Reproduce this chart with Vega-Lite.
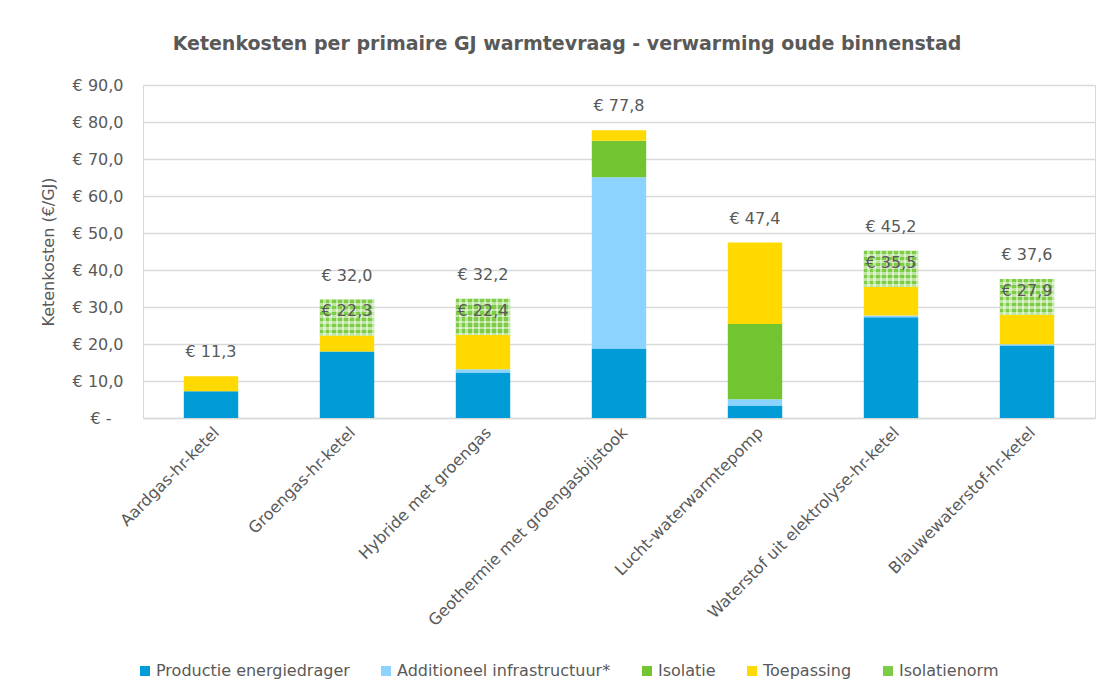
{
  "$schema": "https://vega.github.io/schema/vega-lite/v6.json",
  "width": 952,
  "height": 333,
  "autosize": {"type": "none"},
  "padding": {"left": 143, "top": 85, "right": 13, "bottom": 277},
  "background": "white",
  "title": {
    "text": "Ketenkosten per primaire GJ warmtevraag - verwarming oude binnenstad",
    "font": "DejaVu Sans",
    "fontSize": 19,
    "fontWeight": "bold",
    "color": "#595959",
    "anchor": "middle",
    "dx": -52,
    "offset": 23
  },
  "config": {
    "font": "DejaVu Sans",
    "view": {"stroke": "#d9d9d9"}
  },
  "datasets": {
    "bars": [
      {"cat": "Aardgas-hr-ketel", "series": "Productie energiedrager", "value": 7.2},
      {"cat": "Aardgas-hr-ketel", "series": "Toepassing", "value": 4.1},
      {"cat": "Groengas-hr-ketel", "series": "Productie energiedrager", "value": 18.0},
      {"cat": "Groengas-hr-ketel", "series": "Toepassing", "value": 4.3},
      {"cat": "Groengas-hr-ketel", "series": "Isolatienorm", "value": 9.7},
      {"cat": "Hybride met groengas", "series": "Productie energiedrager", "value": 12.3},
      {"cat": "Hybride met groengas", "series": "Additioneel infrastructuur*", "value": 0.9},
      {"cat": "Hybride met groengas", "series": "Toepassing", "value": 9.2},
      {"cat": "Hybride met groengas", "series": "Isolatienorm", "value": 9.8},
      {"cat": "Geothermie met groengasbijstook", "series": "Productie energiedrager", "value": 18.8},
      {"cat": "Geothermie met groengasbijstook", "series": "Additioneel infrastructuur*", "value": 46.3},
      {"cat": "Geothermie met groengasbijstook", "series": "Isolatie", "value": 9.8},
      {"cat": "Geothermie met groengasbijstook", "series": "Toepassing", "value": 2.9},
      {"cat": "Lucht-waterwarmtepomp", "series": "Productie energiedrager", "value": 3.4},
      {"cat": "Lucht-waterwarmtepomp", "series": "Additioneel infrastructuur*", "value": 1.7},
      {"cat": "Lucht-waterwarmtepomp", "series": "Isolatie", "value": 20.3},
      {"cat": "Lucht-waterwarmtepomp", "series": "Toepassing", "value": 22.0},
      {"cat": "Waterstof uit elektrolyse-hr-ketel", "series": "Productie energiedrager", "value": 27.2},
      {"cat": "Waterstof uit elektrolyse-hr-ketel", "series": "Additioneel infrastructuur*", "value": 0.5},
      {"cat": "Waterstof uit elektrolyse-hr-ketel", "series": "Toepassing", "value": 7.8},
      {"cat": "Waterstof uit elektrolyse-hr-ketel", "series": "Isolatienorm", "value": 9.7},
      {"cat": "Blauwewaterstof-hr-ketel", "series": "Productie energiedrager", "value": 19.6},
      {"cat": "Blauwewaterstof-hr-ketel", "series": "Additioneel infrastructuur*", "value": 0.3},
      {"cat": "Blauwewaterstof-hr-ketel", "series": "Toepassing", "value": 8.0},
      {"cat": "Blauwewaterstof-hr-ketel", "series": "Isolatienorm", "value": 9.7}
    ],
    "labels": [
      {"cat": "Aardgas-hr-ketel", "value": 11.3, "w": "bold"},
      {"cat": "Groengas-hr-ketel", "value": 32.0, "w": "normal"},
      {"cat": "Groengas-hr-ketel", "value": 22.3, "w": "normal"},
      {"cat": "Hybride met groengas", "value": 32.2, "w": "normal"},
      {"cat": "Hybride met groengas", "value": 22.4, "w": "normal"},
      {"cat": "Geothermie met groengasbijstook", "value": 77.8, "w": "normal"},
      {"cat": "Lucht-waterwarmtepomp", "value": 47.4, "w": "normal"},
      {"cat": "Waterstof uit elektrolyse-hr-ketel", "value": 45.2, "w": "normal"},
      {"cat": "Waterstof uit elektrolyse-hr-ketel", "value": 35.5, "w": "normal"},
      {"cat": "Blauwewaterstof-hr-ketel", "value": 37.6, "w": "normal"},
      {"cat": "Blauwewaterstof-hr-ketel", "value": 27.9, "w": "normal"}
    ]
  },
  "layer": [
    {
      "data": {"name": "bars"},
      "transform": [
        {"calculate": "indexof(['Productie energiedrager','Additioneel infrastructuur*','Isolatie','Toepassing','Isolatienorm'], datum.series)", "as": "ord"}
      ],
      "mark": {"type": "bar"},
      "encoding": {
        "x": {
          "field": "cat",
          "type": "nominal",
          "sort": ["Aardgas-hr-ketel", "Groengas-hr-ketel", "Hybride met groengas", "Geothermie met groengasbijstook", "Lucht-waterwarmtepomp", "Waterstof uit elektrolyse-hr-ketel", "Blauwewaterstof-hr-ketel"],
          "scale": {"paddingInner": 0.6, "paddingOuter": 0.3},
          "axis": {
            "title": null,
            "labelAngle": -45,
            "labelAlign": "right",
            "labelBaseline": "top",
            "labelFontSize": 16,
            "labelColor": "#595959",
            "labelPadding": 6,
            "labelLimit": 400,
            "ticks": false,
            "domainColor": "#d9d9d9",
            "domainWidth": 1.5
          }
        },
        "y": {
          "field": "value",
          "type": "quantitative",
          "stack": "zero",
          "scale": {"domain": [0, 90], "nice": false},
          "axis": {
            "title": "Ketenkosten (€/GJ)",
            "titleFontSize": 16,
            "titleFontWeight": "normal",
            "titleColor": "#595959",
            "titlePadding": 16,
            "values": [0, 10, 20, 30, 40, 50, 60, 70, 80, 90],
            "tickCount": 20,
            "labelOverlap": false,
            "labelExpr": "datum.value == 0 ? '€ -' : '€ ' + replace(format(datum.value, '.1f'), '.', ',')",
            "labelFontSize": 16,
            "labelColor": "#595959",
            "labelPadding": {"condition": {"test": "datum.value == 0", "value": 32}, "value": 20},
            "ticks": false,
            "domain": false,
            "grid": true,
            "gridColor": "#d9d9d9",
            "gridWidth": 1.5
          }
        },
        "color": {
          "field": "series",
          "type": "nominal",
          "scale": {
            "domain": ["Productie energiedrager", "Additioneel infrastructuur*", "Isolatie", "Toepassing", "Isolatienorm"],
            "range": ["#009CD8", "#8DD3FF", "#72C530", "#FFD900", "#7ECB46"]
          },
          "legend": {
            "title": null,
            "orient": "none",
            "legendX": -6,
            "legendY": 578,
            "direction": "horizontal",
            "columns": 5,
            "symbolType": "square",
            "symbolSize": 100,
            "symbolStrokeWidth": 0,
            "labelFontSize": 16,
            "labelColor": "#595959",
            "labelOffset": 3,
            "labelLimit": 400,
            "columnPadding": 28
          }
        },
        "order": {"field": "ord", "type": "quantitative"}
      }
    },
    {
      "data": {"name": "bars"},
      "transform": [
        {"calculate": "indexof(['Productie energiedrager','Additioneel infrastructuur*','Isolatie','Toepassing','Isolatienorm'], datum.series)", "as": "ord"}
      ],
      "mark": {"type": "bar"},
      "encoding": {
        "x": {"field": "cat", "type": "nominal", "sort": ["Aardgas-hr-ketel", "Groengas-hr-ketel", "Hybride met groengas", "Geothermie met groengasbijstook", "Lucht-waterwarmtepomp", "Waterstof uit elektrolyse-hr-ketel", "Blauwewaterstof-hr-ketel"]},
        "y": {"field": "value", "type": "quantitative", "stack": "zero"},
        "order": {"field": "ord", "type": "quantitative"},
        "color": {
          "condition": {
            "test": "datum.series === 'Isolatienorm'",
            "value": {
              "gradient": "linear", "x1": 0, "y1": 0, "x2": 1, "y2": 0,
              "stops": [
                {"offset": 0, "color": "rgba(255,255,255,0)"}, {"offset": 0.0667, "color": "rgba(255,255,255,0)"}, {"offset": 0.0667, "color": "rgba(255,255,255,0.5)"}, {"offset": 0.1111, "color": "rgba(255,255,255,0.5)"},
                {"offset": 0.1111, "color": "rgba(255,255,255,0)"}, {"offset": 0.1778, "color": "rgba(255,255,255,0)"}, {"offset": 0.1778, "color": "rgba(255,255,255,0.5)"}, {"offset": 0.2222, "color": "rgba(255,255,255,0.5)"},
                {"offset": 0.2222, "color": "rgba(255,255,255,0)"}, {"offset": 0.2889, "color": "rgba(255,255,255,0)"}, {"offset": 0.2889, "color": "rgba(255,255,255,0.5)"}, {"offset": 0.3333, "color": "rgba(255,255,255,0.5)"},
                {"offset": 0.3333, "color": "rgba(255,255,255,0)"}, {"offset": 0.4, "color": "rgba(255,255,255,0)"}, {"offset": 0.4, "color": "rgba(255,255,255,0.5)"}, {"offset": 0.4444, "color": "rgba(255,255,255,0.5)"},
                {"offset": 0.4444, "color": "rgba(255,255,255,0)"}, {"offset": 0.5111, "color": "rgba(255,255,255,0)"}, {"offset": 0.5111, "color": "rgba(255,255,255,0.5)"}, {"offset": 0.5556, "color": "rgba(255,255,255,0.5)"},
                {"offset": 0.5556, "color": "rgba(255,255,255,0)"}, {"offset": 0.6222, "color": "rgba(255,255,255,0)"}, {"offset": 0.6222, "color": "rgba(255,255,255,0.5)"}, {"offset": 0.6667, "color": "rgba(255,255,255,0.5)"},
                {"offset": 0.6667, "color": "rgba(255,255,255,0)"}, {"offset": 0.7333, "color": "rgba(255,255,255,0)"}, {"offset": 0.7333, "color": "rgba(255,255,255,0.5)"}, {"offset": 0.7778, "color": "rgba(255,255,255,0.5)"},
                {"offset": 0.7778, "color": "rgba(255,255,255,0)"}, {"offset": 0.8444, "color": "rgba(255,255,255,0)"}, {"offset": 0.8444, "color": "rgba(255,255,255,0.5)"}, {"offset": 0.8889, "color": "rgba(255,255,255,0.5)"},
                {"offset": 0.8889, "color": "rgba(255,255,255,0)"}, {"offset": 0.9556, "color": "rgba(255,255,255,0)"}, {"offset": 0.9556, "color": "rgba(255,255,255,0.5)"}, {"offset": 1, "color": "rgba(255,255,255,0.5)"}
              ]
            }
          },
          "value": "rgba(0,0,0,0)"
        }
      }
    },
    {
      "data": {"name": "bars"},
      "transform": [
        {"calculate": "indexof(['Productie energiedrager','Additioneel infrastructuur*','Isolatie','Toepassing','Isolatienorm'], datum.series)", "as": "ord"}
      ],
      "mark": {"type": "bar"},
      "encoding": {
        "x": {"field": "cat", "type": "nominal", "sort": ["Aardgas-hr-ketel", "Groengas-hr-ketel", "Hybride met groengas", "Geothermie met groengasbijstook", "Lucht-waterwarmtepomp", "Waterstof uit elektrolyse-hr-ketel", "Blauwewaterstof-hr-ketel"]},
        "y": {"field": "value", "type": "quantitative", "stack": "zero"},
        "order": {"field": "ord", "type": "quantitative"},
        "color": {
          "condition": {
            "test": "datum.series === 'Isolatienorm'",
            "value": {
              "gradient": "linear", "x1": 0, "y1": 0, "x2": 0, "y2": 1,
              "stops": [
                {"offset": 0, "color": "rgba(255,255,255,0)"}, {"offset": 0.1, "color": "rgba(255,255,255,0)"}, {"offset": 0.1, "color": "rgba(255,255,255,0.5)"}, {"offset": 0.1667, "color": "rgba(255,255,255,0.5)"},
                {"offset": 0.1667, "color": "rgba(255,255,255,0)"}, {"offset": 0.2667, "color": "rgba(255,255,255,0)"}, {"offset": 0.2667, "color": "rgba(255,255,255,0.5)"}, {"offset": 0.3333, "color": "rgba(255,255,255,0.5)"},
                {"offset": 0.3333, "color": "rgba(255,255,255,0)"}, {"offset": 0.4333, "color": "rgba(255,255,255,0)"}, {"offset": 0.4333, "color": "rgba(255,255,255,0.5)"}, {"offset": 0.5, "color": "rgba(255,255,255,0.5)"},
                {"offset": 0.5, "color": "rgba(255,255,255,0)"}, {"offset": 0.6, "color": "rgba(255,255,255,0)"}, {"offset": 0.6, "color": "rgba(255,255,255,0.5)"}, {"offset": 0.6667, "color": "rgba(255,255,255,0.5)"},
                {"offset": 0.6667, "color": "rgba(255,255,255,0)"}, {"offset": 0.7667, "color": "rgba(255,255,255,0)"}, {"offset": 0.7667, "color": "rgba(255,255,255,0.5)"}, {"offset": 0.8333, "color": "rgba(255,255,255,0.5)"},
                {"offset": 0.8333, "color": "rgba(255,255,255,0)"}, {"offset": 0.9333, "color": "rgba(255,255,255,0)"}, {"offset": 0.9333, "color": "rgba(255,255,255,0.5)"}, {"offset": 1, "color": "rgba(255,255,255,0.5)"}
              ]
            }
          },
          "value": "rgba(0,0,0,0)"
        }
      }
    },
    {
      "data": {"name": "labels"},
      "transform": [
        {"calculate": "'€ ' + replace(format(datum.value, '.1f'), '.', ',')", "as": "txt"}
      ],
      "mark": {"type": "text", "dy": -24, "fontSize": 16, "color": "#595959", "baseline": "middle"},
      "encoding": {
        "x": {
          "field": "cat",
          "type": "nominal",
          "sort": ["Aardgas-hr-ketel", "Groengas-hr-ketel", "Hybride met groengas", "Geothermie met groengasbijstook", "Lucht-waterwarmtepomp", "Waterstof uit elektrolyse-hr-ketel", "Blauwewaterstof-hr-ketel"]
        },
        "y": {"field": "value", "type": "quantitative"},
        "text": {"field": "txt"},
        "fontWeight": {"field": "w", "type": "nominal", "scale": null, "legend": null}
      }
    }
  ]
}
